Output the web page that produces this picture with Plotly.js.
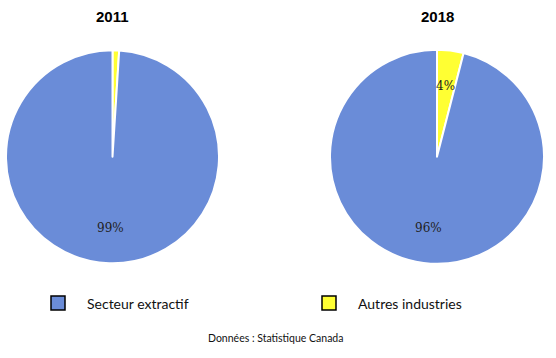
<!DOCTYPE html>
<html>
<head>
<meta charset="utf-8">
<script src="https://cdn.plot.ly/plotly-3.0.1.min.js"></script>
<style>html,body{margin:0;padding:0;background:#fff;}#chart{width:556px;height:358px;}</style>
</head>
<body>
<div id="chart"></div>
<script>
const categories = ["Secteur extractif", "Autres industries"];
const years = ["2011", "2018"];
const values2011 = [99, 1];
const values2018 = [96, 4];
const colors = ["#6a8cd8", "#ffff33"];
const source = "Données : Statistique Canada";

const W = 556, H = 358;
const domains = [
  {x: [6/W, 219/W], y: [1 - 264/H, 1 - 49.5/H]},
  {x: [330/W, 544/W], y: [1 - 264/H, 1 - 49.5/H]}
];
const series = [values2011, values2018];
// slices drawn clockwise from 12 o'clock: Autres industries first, then Secteur extractif
const order = [1, 0];

const traces = series.map((vals, i) => ({
  type: "pie",
  labels: order.map(k => categories[k]),
  values: order.map(k => vals[k]),
  textinfo: "none",
  sort: false,
  direction: "clockwise",
  rotation: 0,
  marker: {colors: order.map(k => colors[k]), line: {color: "#ffffff", width: 2}},
  domain: domains[i],
  hoverinfo: "label+percent",
  showlegend: false
}));

const annotations = years.map((y, i) => ({
  text: "<b>" + y + "</b>",
  x: (domains[i].x[0] + domains[i].x[1]) / 2,
  y: 1 - 17/H,
  xref: "paper", yref: "paper",
  xanchor: "center", yanchor: "middle",
  showarrow: false,
  font: {family: "Liberation Sans", size: 15, color: "#000"}
}));

// percent labels placed at each slice's mid-angle
series.forEach((vals, i) => {
  const total = vals.reduce((a, b) => a + b, 0);
  const d = domains[i];
  const cx = (d.x[0] + d.x[1]) / 2 * W;
  const cy = (1 - (d.y[0] + d.y[1]) / 2) * H;
  const R = Math.min((d.x[1] - d.x[0]) * W, (d.y[1] - d.y[0]) * H) / 2;
  let start = 0;
  order.forEach(k => {
    const frac = vals[k] / total;
    const mid = (start + frac / 2) * 2 * Math.PI;
    start += frac;
    if (vals[k] < 2) return;
    const r = 0.67 * R;
    annotations.push({
      text: vals[k] + "%",
      x: (cx + r * Math.sin(mid)) / W,
      y: 1 - (cy - r * Math.cos(mid)) / H,
      xref: "paper", yref: "paper", xanchor: "center", yanchor: "middle",
      showarrow: false,
      font: {family: "DejaVu Serif", size: 12, color: "#222"}
    });
  });
});

const legendX = [51, 322];
const shapes = [];
categories.forEach((c, i) => {
  shapes.push({
    type: "rect", xref: "paper", yref: "paper",
    x0: legendX[i]/W, x1: (legendX[i] + 14)/W,
    y0: 1 - 310/H, y1: 1 - 296/H,
    fillcolor: colors[i], line: {color: "#000", width: 1.5}
  });
  annotations.push({
    text: c, x: (legendX[i] + 34)/W, y: 1 - 303/H,
    xref: "paper", yref: "paper", xanchor: "left", yanchor: "middle",
    showarrow: false,
    font: {family: "Lato", size: 14, color: "#111"}
  });
});
annotations.push({
  text: source, x: 275/W, y: 1 - 338/H,
  xref: "paper", yref: "paper", xanchor: "center", yanchor: "middle",
  showarrow: false,
  font: {family: "Lato", size: 10.5, color: "#111"}
});

Plotly.newPlot("chart", traces, {
  width: W, height: H,
  margin: {l: 0, r: 0, t: 0, b: 0},
  paper_bgcolor: "#fff",
  annotations: annotations,
  shapes: shapes,
  showlegend: false
}, {displayModeBar: false, staticPlot: true});
</script>
</body>
</html>
